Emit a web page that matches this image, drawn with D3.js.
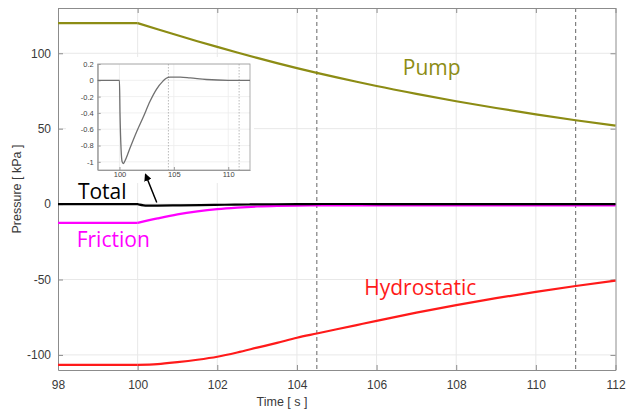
<!DOCTYPE html>
<html>
<head>
<meta charset="utf-8">
<script src="https://cdn.jsdelivr.net/npm/d3@7"></script>
<style>
  body { margin: 0; background: #fff; }
  svg { display: block; }
</style>
</head>
<body>
<svg id="chart" width="626" height="411"></svg>
<script>
// time grid shared by pump / friction / hydrostatic (s)
const time = [98, 99, 100, 100.5, 101, 101.5, 102, 102.5, 103, 103.5, 104, 104.5, 105, 105.5, 106, 107, 108, 109, 110, 111, 112];
const pump = [120, 120, 120, 115.9, 111.9, 108, 104.2, 100.5, 96.9, 93.45, 90.15, 87, 84, 81.1, 78.3, 73.1, 68.2, 63.7, 59.5, 55.6, 52];
const friction = [-12.5, -12.5, -12.5, -9.5, -6.8, -4.8, -3.3, -2.3, -1.6, -1.2, -1, -0.9, -0.9, -0.9, -0.9, -0.9, -0.9, -0.9, -0.9, -0.9, -0.9];
const hydrostatic = [-106.6, -106.6, -106.6, -106.1, -104.8, -103.2, -101.2, -98.4, -95.2, -92, -88.6, -85.8, -83, -80.2, -77.4, -72, -67, -62.4, -58.2, -54.3, -50.8];

// total pressure has its own (denser) sampling
const totalTime = [98, 100, 100.05, 100.15, 100.25, 100.35, 100.5, 100.97, 101.58, 102.19, 102.8, 103.4, 104, 104.3, 104.65, 105.6, 106.5, 108, 110, 112];
const total = [0, 0, -0.4, -0.85, -1.0, -1.02, -0.99, -0.83, -0.63, -0.45, -0.26, -0.11, -0.01, 0.025, 0.04, 0.04, 0.03, 0.01, 0, 0];

const xTicks = [98, 100, 102, 104, 106, 108, 110, 112];
const yTicks = [-100, -50, 0, 50, 100];
const markers = [104.5, 111];
const insetXTicks = [100, 105, 110];
const insetYTicks = [0.2, 0, -0.2, -0.4, -0.6, -0.8, -1];

const labels = [
    { text: "Pump", t: 106.66, v: 85.6, color: "#8c8c14" },
    { text: "Total", t: 98.5, v: 3.6, color: "#000" },
    { text: "Friction", t: 98.47, v: -28.2, color: "#ff00ff" },
    { text: "Hydrostatic", t: 105.69, v: -60.3, color: "#ff1a1a" }
];

function drawChart() {
    const svg = d3.select("#chart");
    const left = 58, right = 615.5, top = 8, bottom = 370;

    const x = d3.scaleLinear().domain([98, 112]).range([left, right]);
    const y = d3.scaleLinear().domain([-110, 130]).range([bottom, top]);

    const grid = svg.append("g");
    grid.selectAll("line.gx").data(xTicks.slice(1, -1)).enter().append("line")
        .attr("x1", d => x(d)).attr("x2", d => x(d))
        .attr("y1", top).attr("y2", bottom)
        .attr("stroke", "#e8e8e8").attr("stroke-width", 1);
    grid.selectAll("line.gy").data(yTicks).enter().append("line")
        .attr("y1", d => y(d)).attr("y2", d => y(d))
        .attr("x1", left).attr("x2", right)
        .attr("stroke", "#e8e8e8").attr("stroke-width", 1);

    // dashed event markers
    svg.selectAll("line.mark").data(markers).enter().append("line")
        .attr("x1", d => x(d)).attr("x2", d => x(d))
        .attr("y1", top).attr("y2", bottom)
        .attr("stroke", "#666").attr("stroke-width", 1)
        .attr("stroke-dasharray", "4,3");

    // axes (inward ticks, MATLAB look), plain hyphen for negatives
    const fmt = d => String(d);
    svg.append("g").attr("transform", `translate(0,${bottom})`)
        .call(d3.axisBottom(x).tickValues(xTicks).tickFormat(fmt).tickSizeInner(-5).tickSizeOuter(0).tickPadding(10));
    svg.append("g").attr("transform", `translate(${left},0)`)
        .call(d3.axisLeft(y).tickValues(yTicks).tickFormat(fmt).tickSizeInner(-5).tickSizeOuter(0).tickPadding(7));
    svg.append("g").attr("transform", `translate(0,${top})`)
        .call(d3.axisTop(x).tickValues(xTicks).tickSizeInner(-5).tickSizeOuter(0).tickFormat(""));
    svg.append("g").attr("transform", `translate(${right},0)`)
        .call(d3.axisRight(y).tickValues(yTicks).tickSizeInner(-5).tickSizeOuter(0).tickFormat(""));
    svg.selectAll(".domain, .tick line").attr("stroke", "#8c8c8c");
    svg.selectAll(".tick text").attr("fill", "#3a3a3a").style("font-family", "Liberation Sans, Arial, sans-serif").style("font-size", "12px");

    // inset background
    svg.append("rect").attr("x", 66).attr("y", 57).attr("width", 188).attr("height", 126).attr("fill", "#fff");

    const rows = time.map((t, i) => ({ t: t, pump: pump[i], friction: friction[i], hydro: hydrostatic[i] }));
    const before = rows.filter(d => d.t <= 100);
    const after = rows.filter(d => d.t >= 100);
    const totalRows = totalTime.map((t, i) => ({ t: t, v: total[i] }));

    const lineOf = key => d3.line().x(d => x(d.t)).y(d => y(d[key])).curve(d3.curveMonotoneX);
    const series = [
        { key: "hydro", color: "#ff1a1a" },
        { key: "pump", color: "#8c8c14" },
        { key: "friction", color: "#ff00ff" }
    ];
    series.forEach(s => {
        [before, after].forEach(part => {
            svg.append("path").datum(part).attr("d", lineOf(s.key))
                .attr("fill", "none").attr("stroke", s.color).attr("stroke-width", 2.2)
                .attr("stroke-linejoin", "round");
        });
    });
    svg.append("path").datum(totalRows).attr("d", lineOf("v"))
        .attr("fill", "none").attr("stroke", "#000").attr("stroke-width", 2.2);

    // series labels
    svg.selectAll("text.lbl").data(labels).enter().append("text")
        .attr("x", d => x(d.t)).attr("y", d => y(d.v))
        .attr("fill", d => d.color)
        .style("font-family", "Open Sans, sans-serif").style("font-size", "21px")
        .text(d => d.text);

    // axis titles
    svg.append("text").attr("x", 282).attr("y", 406).attr("text-anchor", "middle")
        .attr("fill", "#3a3a3a").style("font-family", "Liberation Sans, Arial, sans-serif").style("font-size", "12.5px")
        .text("Time [ s ]");
    svg.append("text").attr("transform", "translate(21,189) rotate(-90)").attr("text-anchor", "middle")
        .attr("fill", "#3a3a3a").style("font-family", "Liberation Sans, Arial, sans-serif").style("font-size", "12.5px")
        .text("Pressure [ kPa ]");

    drawInset(svg, x, y);
}

function drawInset(svg, xMain, yMain) {
    const left = 97.7, right = 250, top = 64, bottom = 170;
    const x = d3.scaleLinear().domain([98, 112]).range([left, right]);
    const y = d3.scaleLinear().domain([-1.1, 0.2]).range([bottom, top]);
    const g = svg.append("g");

    g.selectAll("line.gx").data(insetXTicks).enter().append("line")
        .attr("x1", d => x(d)).attr("x2", d => x(d)).attr("y1", top).attr("y2", bottom)
        .attr("stroke", "#ececec").attr("stroke-width", 0.8);
    g.selectAll("line.gy").data(insetYTicks).enter().append("line")
        .attr("y1", d => y(d)).attr("y2", d => y(d)).attr("x1", left).attr("x2", right)
        .attr("stroke", "#ececec").attr("stroke-width", 0.8);
    g.selectAll("line.mark").data(markers).enter().append("line")
        .attr("x1", d => x(d)).attr("x2", d => x(d)).attr("y1", top).attr("y2", bottom)
        .attr("stroke", "#aaa").attr("stroke-width", 0.8).attr("stroke-dasharray", "1.5,1.5");

    g.append("g").attr("transform", `translate(0,${bottom})`)
        .call(d3.axisBottom(x).tickValues(insetXTicks).tickFormat(d => String(d)).tickSizeInner(-3).tickSizeOuter(0).tickPadding(2));
    g.append("g").attr("transform", `translate(${left},0)`)
        .call(d3.axisLeft(y).tickValues(insetYTicks).tickSizeInner(-3).tickSizeOuter(0).tickPadding(4)
            .tickFormat(d => String(d)));
    g.append("rect").attr("x", left).attr("y", top).attr("width", right - left).attr("height", bottom - top)
        .attr("fill", "none").attr("stroke", "#9a9a9a").attr("stroke-width", 0.8);
    g.selectAll(".domain, .tick line").attr("stroke", "#9a9a9a");
    g.selectAll(".tick text").attr("fill", "#444").style("font-family", "Liberation Sans, Arial, sans-serif").style("font-size", "7.5px");

    const rows = totalTime.map((t, i) => ({ t: t, v: total[i] }));
    g.append("path").datum(rows)
        .attr("d", d3.line().x(d => x(d.t)).y(d => y(d.v)).curve(d3.curveMonotoneX))
        .attr("fill", "none").attr("stroke", "#707070").attr("stroke-width", 1.3);

    // arrow from total line up to the inset
    svg.append("defs").append("marker").attr("id", "head")
        .attr("viewBox", "0 0 10 10").attr("refX", 8).attr("refY", 5)
        .attr("markerWidth", 5).attr("markerHeight", 5).attr("orient", "auto")
        .append("path").attr("d", "M0,0 L10,5 L0,10 z").attr("fill", "#000");
    svg.append("line")
        .attr("x1", xMain(100.48)).attr("y1", yMain(1))
        .attr("x2", xMain(100.2)).attr("y2", yMain(19.5))
        .attr("stroke", "#000").attr("stroke-width", 1.5).attr("marker-end", "url(#head)");
}

drawChart();
</script>
</body>
</html>
